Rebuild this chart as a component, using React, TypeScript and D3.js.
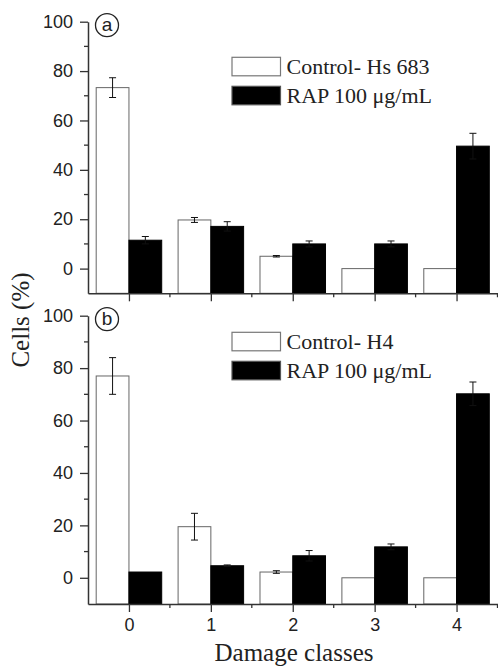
import React, { useRef, useEffect } from 'react';
import * as d3 from 'd3';

const categories = [0, 1, 2, 3, 4];
const yMajorTicks = [0, 20, 40, 60, 80, 100];
const yMinorTicks = [10, 30, 50, 70, 90];
const xMinorTicks = [0.5, 1.5, 2.5, 3.5, 4.5];

// panel a: Hs 683
const hsControl = [73.3, 19.7, 5.0, 0, 0];
const hsControlErr = [4, 1, 0.3, 0, 0];
const hsRap = [11.5, 17.1, 10.0, 10.0, 49.6];
const hsRapErr = [1.5, 1.9, 1.2, 1.2, 5.2];

// panel b: H4
const h4Control = [77, 19.5, 2.2, 0, 0];
const h4ControlErr = [7, 5.1, 0.5, 0, 0];
const h4Rap = [2.2, 4.6, 8.4, 11.8, 70.2];
const h4RapErr = [0, 0.3, 2, 1.1, 4.5];

const W = 498;
const H = 668;
const axisColor = '#333';
const textColor = '#222';

const panels = [
  { letter: 'a', top: 21.7, bottom: 293.3, control: hsControl, controlErr: hsControlErr, rap: hsRap, rapErr: hsRapErr, controlName: 'Control- Hs 683', showX: false },
  { letter: 'b', top: 315.7, bottom: 604, control: h4Control, controlErr: h4ControlErr, rap: h4Rap, rapErr: h4RapErr, controlName: 'Control- H4', showX: true },
];

const App = () => {
  const ref = useRef<SVGSVGElement>(null);

  useEffect(() => {
    if (!ref.current) return;
    const svg = d3.select(ref.current);
    svg.selectAll('*').remove();

    const x = d3.scaleLinear().domain([-0.5, 4.5]).range([88, 497.5]);
    const barW = x(0.4) - x(0);

    panels.forEach(p => {
      const y = d3.scaleLinear().domain([-10, 100]).range([p.bottom, p.top]);
      const g = svg.append('g');

      // bars
      const series = [
        { vals: p.control, errs: p.controlErr, off: -0.4, fill: '#fff', stroke: '#666' },
        { vals: p.rap, errs: p.rapErr, off: 0, fill: '#000', stroke: '#000' },
      ];
      series.forEach(s => {
        g.selectAll(null)
          .data(categories)
          .join('rect')
          .attr('x', (d, i) => x(d + s.off))
          .attr('y', (d, i) => y(s.vals[i]))
          .attr('width', barW)
          .attr('height', (d, i) => y(-10) - y(s.vals[i]))
          .attr('fill', s.fill)
          .attr('stroke', s.stroke)
          .attr('stroke-width', 1);

        // error bars
        categories.forEach((d, i) => {
          const e = s.errs[i];
          if (!e) return;
          const cx = x(d + s.off) + barW / 2;
          const eg = g.append('g').attr('stroke', '#111').attr('stroke-width', 1);
          eg.append('line').attr('x1', cx).attr('x2', cx).attr('y1', y(s.vals[i] - e)).attr('y2', y(s.vals[i] + e));
          [s.vals[i] - e, s.vals[i] + e].forEach(v => {
            eg.append('line').attr('x1', cx - 3.5).attr('x2', cx + 3.5).attr('y1', y(v)).attr('y2', y(v));
          });
        });
      });

      // y axis
      const yAxis = g.append('g')
        .attr('transform', `translate(${x(-0.5)},0)`)
        .call(d3.axisLeft(y).tickValues(yMajorTicks).tickSize(8).tickSizeOuter(0).tickPadding(7));
      yAxis.selectAll('text')
        .attr('font-family', 'Liberation Sans, Arial, sans-serif')
        .attr('font-size', 18)
        .attr('fill', textColor);
      g.append('g')
        .attr('transform', `translate(${x(-0.5)},0)`)
        .selectAll('line')
        .data(yMinorTicks)
        .join('line')
        .attr('x1', -4).attr('x2', 0)
        .attr('y1', d => y(d)).attr('y2', d => y(d))
        .attr('stroke', axisColor).attr('stroke-width', 1.3);

      // x axis
      const xAxis = g.append('g')
        .attr('transform', `translate(0,${y(-10)})`)
        .call(d3.axisBottom(x).tickValues(categories).tickSize(8).tickSizeOuter(0).tickPadding(6)
          .tickFormat(d => (p.showX ? String(d) : '')));
      xAxis.selectAll('text')
        .attr('font-family', 'Liberation Sans, Arial, sans-serif')
        .attr('font-size', 18)
        .attr('fill', textColor);
      g.append('g')
        .attr('transform', `translate(0,${y(-10)})`)
        .selectAll('line')
        .data(xMinorTicks)
        .join('line')
        .attr('x1', d => x(d)).attr('x2', d => x(d))
        .attr('y1', 0).attr('y2', 4)
        .attr('stroke', axisColor).attr('stroke-width', 1.3);

      [yAxis, xAxis].forEach(a => {
        a.select('.domain').attr('stroke', axisColor).attr('stroke-width', 1.5);
        a.selectAll('.tick line').attr('stroke', axisColor).attr('stroke-width', 1.3);
      });

      // panel letter
      const cy = p.top + 3.5;
      g.append('circle').attr('cx', 107).attr('cy', cy).attr('r', 11.5)
        .attr('fill', 'none').attr('stroke', textColor).attr('stroke-width', 1.3);
      g.append('text').attr('x', 107).attr('y', cy + 6)
        .attr('text-anchor', 'middle')
        .attr('font-family', 'Liberation Sans, Arial, sans-serif')
        .attr('font-size', 19)
        .attr('fill', textColor)
        .text(p.letter);

      // legend
      const legendTop = p.top + (p.letter === 'a' ? 35.6 : 16.6);
      const legend = [
        { name: p.controlName, fill: '#fff', stroke: '#777' },
        { name: 'RAP 100 μg/mL', fill: '#000', stroke: '#555' },
      ];
      legend.forEach((l, i) => {
        const ly = legendTop + i * 29;
        g.append('rect').attr('x', 232).attr('y', ly).attr('width', 48.5).attr('height', 18.5)
          .attr('fill', l.fill).attr('stroke', l.stroke).attr('stroke-width', 1.2);
        g.append('text').attr('x', 286.5).attr('y', ly + 16.5)
          .attr('font-family', 'Liberation Serif, Times New Roman, serif')
          .attr('font-size', 22)
          .attr('fill', textColor)
          .text(l.name);
      });
    });

    // axis titles
    svg.append('text')
      .attr('transform', 'translate(29,320) rotate(-90)')
      .attr('text-anchor', 'middle')
      .attr('font-family', 'Liberation Serif, Times New Roman, serif')
      .attr('font-size', 25)
      .attr('fill', textColor)
      .text('Cells (%)');
    svg.append('text')
      .attr('x', 294).attr('y', 661)
      .attr('text-anchor', 'middle')
      .attr('font-family', 'Liberation Serif, Times New Roman, serif')
      .attr('font-size', 25)
      .attr('fill', textColor)
      .text('Damage classes');
  }, []);

  return (
    <svg ref={ref} width={W} height={H}
      style={{ position: 'absolute', left: 0, top: 0, background: '#fff' }} />
  );
};

export default App;
